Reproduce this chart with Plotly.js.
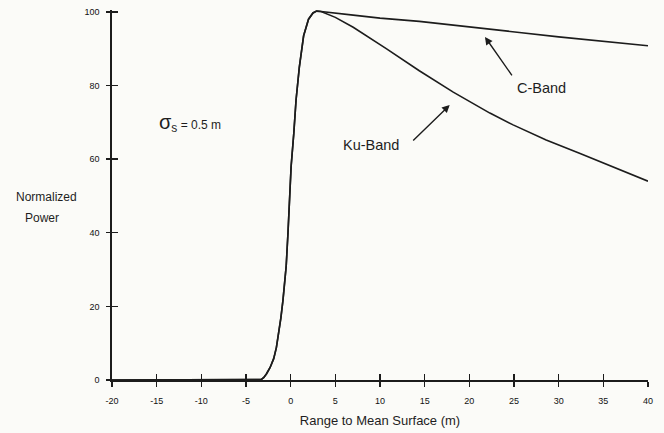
<!DOCTYPE html>
<html>
<head>
<meta charset="utf-8">
<script src="https://cdn.plot.ly/plotly-3.0.1.min.js"></script>
<style>
  html, body { margin: 0; padding: 0; background: #fbfbf8; }
  #chart { width: 664px; height: 433px; }
</style>
</head>
<body>
<div id="chart"></div>
<script>
// Leading edge shared by both bands (range in m, normalized power)
const riseRange = [-20, -4, -3.3, -3.0, -2.7, -2.3, -1.9, -1.6, -1.35, -1.1, -0.86, -0.5, -0.3, -0.15, 0.05, 0.35, 0.6, 0.97, 1.45, 2.0, 2.5, 2.9];
const risePower = [0, 0, 0.1, 0.7, 1.7, 3.4, 5.8, 8.8, 12.4, 16.8, 21.7, 31, 40, 49, 58, 67, 76, 85, 93.5, 98, 99.7, 100.2];

// Trailing edge, C-Band
const cRange = [3.4, 7, 10, 14.4, 18, 22.3, 25.6, 30, 35, 40];
const cPower = [100.1, 99.1, 98.3, 97.4, 96.5, 95.4, 94.4, 93.2, 92, 90.8];

// Trailing edge, Ku-Band
const kuRange = [3.4, 5, 7, 10.7, 14.4, 18.2, 22.3, 24.9, 28.6, 32.4, 36.1, 40];
const kuPower = [100.1, 98.5, 95.8, 90, 84, 78.2, 72.5, 69.3, 65.2, 61.5, 57.8, 54];

// Axis ticks
const xTicks = [-20, -15, -10, -5, 0, 5, 10, 15, 20, 25, 30, 35, 40];
const yTicks = [0, 20, 40, 60, 80, 100];

const font = "Liberation Sans, Arial, Helvetica, sans-serif";
const ink = "#1c1c1c";
const textInk = "#1e1e1e";

const traces = [
  {
    x: riseRange.concat(cRange),
    y: risePower.concat(cPower),
    mode: "lines",
    line: { color: ink, width: 1.6 },
    name: "C-Band",
    hoverinfo: "skip"
  },
  {
    x: riseRange.concat(kuRange),
    y: risePower.concat(kuPower),
    mode: "lines",
    line: { color: ink, width: 1.6 },
    name: "Ku-Band",
    hoverinfo: "skip"
  },
  // empty trace so the mirrored tick axes get drawn
  { x: [], y: [], xaxis: "x2", yaxis: "y2", showlegend: false }
];

const xRange = [-20, 40];
const yRange = [0, 100.5];

const layout = {
  width: 664,
  height: 433,
  margin: { l: 112, r: 16, t: 10, b: 53 },
  paper_bgcolor: "#fbfbf8",
  plot_bgcolor: "#fbfbf8",
  showlegend: false,
  font: { family: font, color: textInk, size: 9 },
  xaxis: {
    range: xRange,
    tickvals: xTicks,
    ticktext: xTicks.map(String),
    ticks: "outside",
    ticklen: 5,
    tickwidth: 1.4,
    tickcolor: ink,
    ticklabelstandoff: 7,
    showline: true,
    linecolor: ink,
    linewidth: 1.6,
    showgrid: false,
    zeroline: false,
    tickfont: { family: font, size: 9, color: "#111" },
    title: {
      text: "Range to Mean Surface (m)",
      font: { family: font, size: 13, color: textInk },
      standoff: 10
    }
  },
  yaxis: {
    range: yRange,
    tickvals: yTicks,
    ticktext: yTicks.map(String),
    ticks: "outside",
    ticklen: 4,
    tickwidth: 1.4,
    tickcolor: ink,
    ticklabelstandoff: 5,
    showline: true,
    linecolor: ink,
    linewidth: 1.6,
    showgrid: false,
    zeroline: false,
    tickfont: { family: font, size: 9, color: "#111" }
  },
  xaxis2: {
    overlaying: "x",
    anchor: "y",
    side: "bottom",
    range: xRange,
    tickvals: xTicks,
    ticks: "inside",
    ticklen: 6,
    tickwidth: 1.4,
    tickcolor: ink,
    showticklabels: false,
    showgrid: false,
    zeroline: false,
    showline: false
  },
  yaxis2: {
    overlaying: "y",
    anchor: "x",
    side: "left",
    range: yRange,
    tickvals: yTicks,
    ticks: "inside",
    ticklen: 6,
    tickwidth: 1.4,
    tickcolor: ink,
    showticklabels: false,
    showgrid: false,
    zeroline: false,
    showline: false
  },
  annotations: [
    {
      xref: "paper", yref: "y", x: -0.123, y: 49.7,
      xanchor: "center", yanchor: "middle",
      text: "Normalized", showarrow: false,
      font: { family: font, size: 12, color: textInk }
    },
    {
      xref: "paper", yref: "y", x: -0.13, y: 44.0,
      xanchor: "center", yanchor: "middle",
      text: "Power", showarrow: false,
      font: { family: font, size: 12, color: textInk }
    },
    {
      xref: "x", yref: "y", x: -15.0, y: 69.8,
      xanchor: "left", yanchor: "middle",
      text: "<span style='font-size:20px'>σ</span><sub><span style='font-size:12px'>s</span></sub> = 0.5 m",
      showarrow: false,
      font: { family: font, size: 12, color: textInk }
    },
    {
      xref: "x", yref: "y", x: 9.0, y: 63.8,
      text: "Ku-Band", showarrow: false,
      font: { family: font, size: 14.5, color: textInk }
    },
    {
      xref: "x", yref: "y", x: 28.1, y: 79.3,
      text: "C-Band", showarrow: false,
      font: { family: font, size: 14.5, color: textInk }
    },
    {
      xref: "x", yref: "y", x: 17.8, y: 74.7,
      ax: -38, ay: 37, text: "", showarrow: true,
      arrowhead: 2, arrowsize: 1.1, arrowwidth: 1.4, arrowcolor: ink
    },
    {
      xref: "x", yref: "y", x: 21.75, y: 93.2,
      ax: 28, ay: 40, text: "", showarrow: true,
      arrowhead: 2, arrowsize: 1.1, arrowwidth: 1.4, arrowcolor: ink
    }
  ]
};

Plotly.newPlot("chart", traces, layout, { staticPlot: true, displayModeBar: false });
</script>
</body>
</html>
